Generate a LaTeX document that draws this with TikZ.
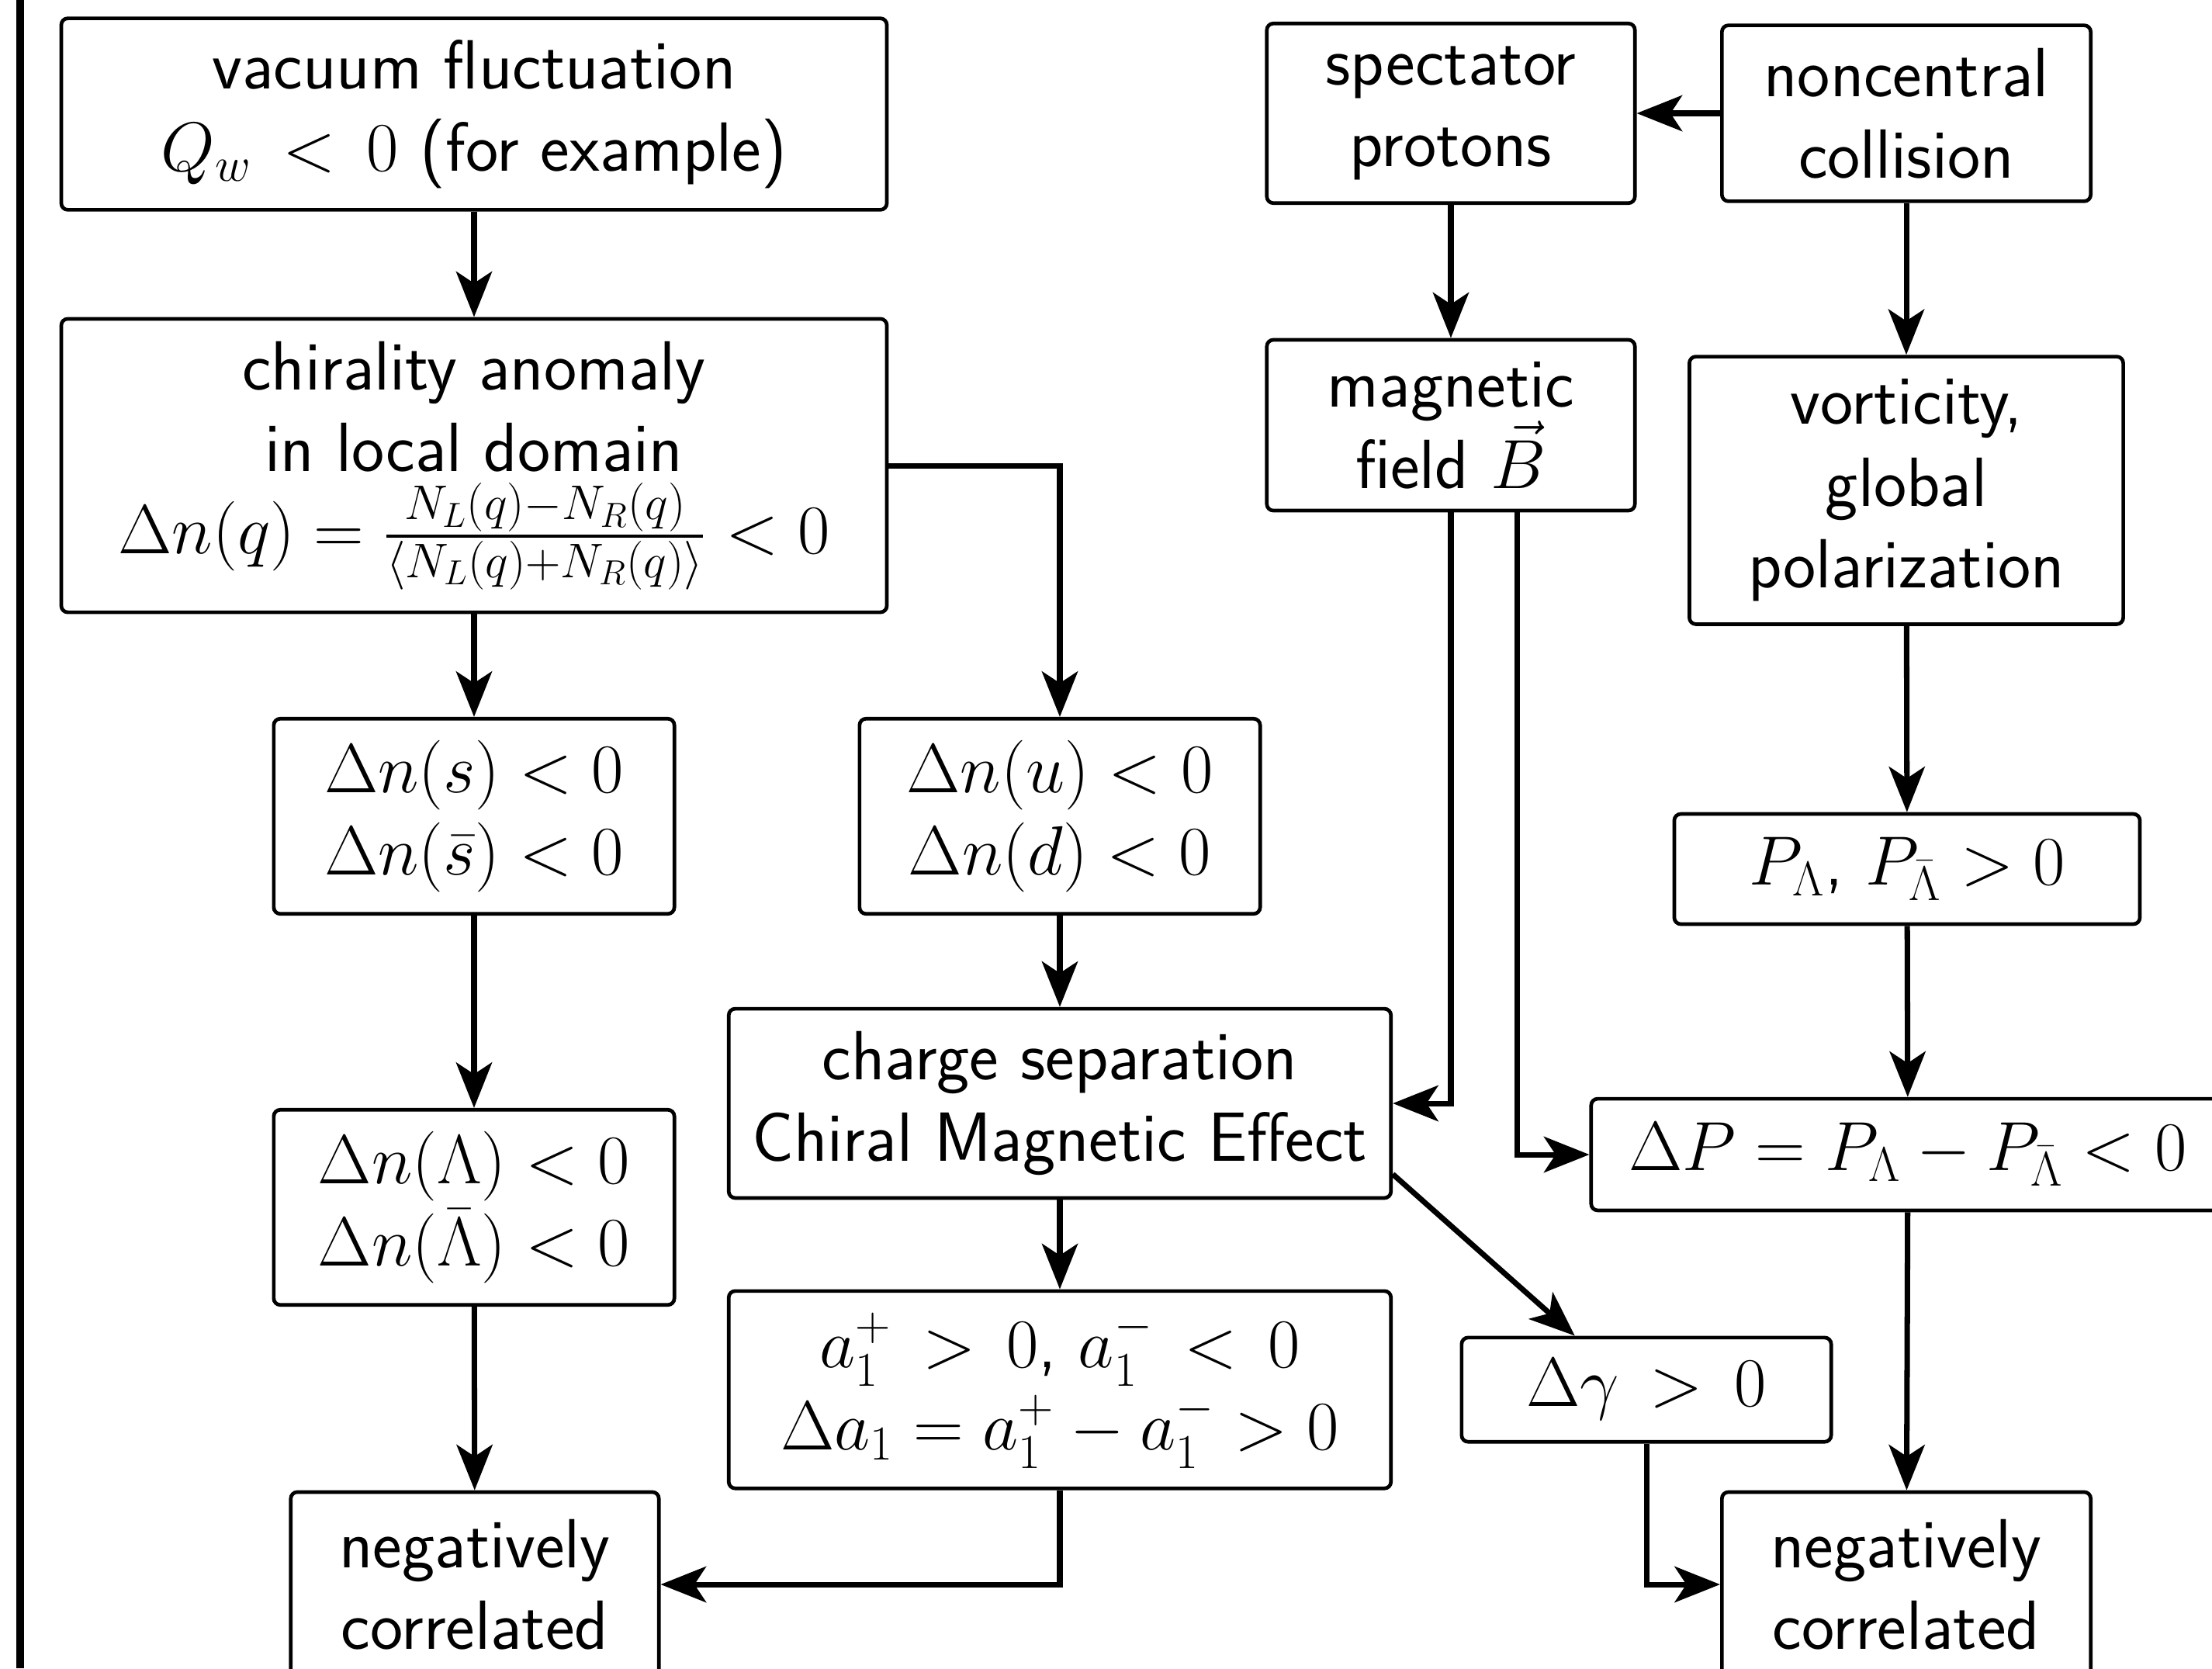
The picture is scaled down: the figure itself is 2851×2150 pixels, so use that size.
\RequirePackage{fix-cm}
\documentclass[tikz,border=0pt]{standalone}
\usepackage{amsmath,amssymb}
\usetikzlibrary{arrows.meta,calc}

\begin{document}
\begin{tikzpicture}[x=0.0105cm,y=-0.0105cm,font=\fontsize{26.8}{31.5}\selectfont\sffamily,
  bx/.style={draw,line width=1.4pt,rounded corners=2.5pt,align=center,inner sep=0pt},
  ar/.style={line width=2.1pt,-{Stealth[length=17.5pt,width=13.8pt,inset=4.5pt]}}]
  \useasboundingbox (0,0) rectangle (2851,2150);
  \clip (0,0) rectangle (2851,2150);
  \draw[line width=3pt] (26,0) -- (26,2150);
  % left column
  \node[bx,minimum width=11.17cm,minimum height=2.59cm] (vac) at (611,147) {vacuum fluctuation\\$Q_w\,<\,0$ (for example)};
  \node[bx,minimum width=11.17cm,minimum height=3.97cm] (chir) at (611,600) {chirality anomaly\\in local domain\\$\Delta n(q) = \frac{N_L(q)-N_R(q)}{\langle N_L(q)+N_R(q)\rangle} < 0$};
  \node[bx,minimum width=5.42cm,minimum height=2.64cm] (dns) at (611,1052) {$\Delta n(s) < 0$\\$\Delta n(\bar{s}) < 0$};
  \node[bx,minimum width=5.42cm,minimum height=2.64cm] (dnl) at (611,1556) {$\Delta n(\Lambda) < 0$\\$\Delta n(\bar{\Lambda}) < 0$};
  \node[bx,minimum width=4.98cm,minimum height=2.5cm] (ncl) at (612,2042) {negatively\\correlated};
  % middle column
  \node[bx,minimum width=5.42cm,minimum height=2.64cm] (dnu) at (1366,1052) {$\Delta n(u) < 0$\\$\Delta n(d) < 0$};
  \node[bx,minimum width=8.96cm,minimum height=2.56cm] (cs) at (1366,1422) {charge separation\\Chiral Magnetic Effect};
  \node[bx,minimum width=8.96cm,minimum height=2.67cm] (a1) at (1366,1791) {$a_1^+\,>\,0$, $a_1^-\,<\,0$\\$\Delta a_1 = a_1^+ - a_1^- > 0$};
  % right part
  \node[bx,minimum width=4.98cm,minimum height=2.43cm] (sp) at (1870,146) {spectator\\protons};
  \node[bx,minimum width=4.99cm,minimum height=2.38cm] (nc) at (2457,146) {noncentral\\collision};
  \node[bx,minimum width=4.98cm,minimum height=2.31cm] (mag) at (1870,548) {magnetic\\field $\vec{B}$};
  \node[bx,minimum width=5.87cm,minimum height=3.62cm] (vor) at (2457,632) {vorticity,\\global\\polarization};
  \node[bx,minimum width=6.3cm,minimum height=1.49cm] (pl) at (2458,1120) {$P_\Lambda$, $P_{\bar{\Lambda}} > 0$};
  \node[bx,minimum width=8.57cm,minimum height=1.51cm] (dp) at (2459,1488) {$\Delta P = P_\Lambda - P_{\bar{\Lambda}} < 0$};
  \node[bx,minimum width=5.0cm,minimum height=1.41cm] (dg) at (2122,1791) {$\Delta\gamma\,>\,0$};
  \node[bx,minimum width=4.99cm,minimum height=2.5cm] (ncr) at (2457,2042) {negatively\\correlated};
  % arrows
  \draw[ar] (vac) -- (chir);
  \draw[ar] (chir) -- (dns);
  \draw[ar] (chir.east) -| (dnu.north);
  \draw[ar] (dns) -- (dnl);
  \draw[ar] (dnl) -- (ncl);
  \draw[ar] (dnu) -- (cs);
  \draw[ar] (cs) -- (a1);
  \draw[ar] (a1.south) |- (ncl.east);
  \draw[ar] (nc) -- (sp);
  \draw[ar] (sp) -- (mag);
  \draw[ar] (nc) -- (vor);
  \draw[ar] (vor) -- (pl);
  \draw[ar] (pl) -- (dp);
  \draw[ar] (dp) -- (ncr);
  \draw[ar] (mag.south) |- (cs.east);
  \draw[ar] ($(mag.south)+(85,0)$) |- (dp.west);
  \draw[ar] (cs.-12) -- (dg.143);
  \draw[ar] (dg.south) |- (ncr.west);
\end{tikzpicture}
\end{document}
